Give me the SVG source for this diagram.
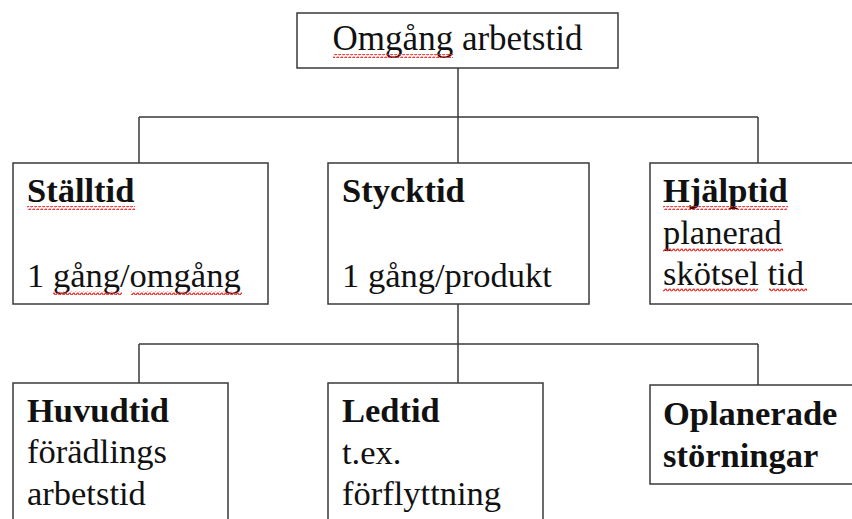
<svg xmlns="http://www.w3.org/2000/svg" width="852" height="519" viewBox="0 0 852 519">
<defs>
<pattern id="sq" width="4" height="4" patternUnits="userSpaceOnUse">
<path d="M0 3 L1 1.5 L2 1 L3 2.5 L4 3" fill="none" stroke="#f02828" stroke-width="1.2"/>
</pattern>
</defs>
<style>
.box{fill:#fff;stroke:#3a3a3a;stroke-width:1.5}
.ln{fill:none;stroke:#3a3a3a;stroke-width:1.5}
text{font-family:"Liberation Serif","Times New Roman",serif;font-size:34.5px;fill:#111}
.b{font-weight:bold}
.t{font-size:35px}
.sq{fill:url(#sq)}
</style>
<rect width="852" height="519" fill="#fff"/>
<g id="connectors">
<path class="ln" d="M458 68 V117 M139 117 H758 M139 117 V163 M458 117 V163 M758 117 V163"/>
<path class="ln" d="M458 304 V344 M139 344 H758 M139 344 V383 M458 344 V383 M758 344 V385"/>
</g>
<g id="n-omgang">
<rect class="box" x="297" y="13" width="321" height="55"/>
<text x="457.5" y="50" text-anchor="middle" class="t">Omgång arbetstid</text>
<rect class="sq" x="333" y="54" width="120" height="4"/>
</g>
<g id="n-stalltid">
<rect class="box" x="13" y="163" width="255" height="141"/>
<text x="27" y="202" class="b">Ställtid</text>
<text x="27" y="287">1 gång/omgång</text>
<rect class="sq" x="27" y="206" width="108" height="4"/>
<rect class="sq" x="53" y="291" width="69" height="4"/>
<rect class="sq" x="131" y="291" width="111" height="4"/>
</g>
<g id="n-stycktid">
<rect class="box" x="328" y="163" width="261" height="141"/>
<text x="342" y="202" class="b">Stycktid</text>
<text x="342" y="287">1 gång/produkt</text>
</g>
<g id="n-hjalptid">
<rect class="box" x="650" y="163" width="210" height="141"/>
<text x="663" y="202" class="b">Hjälptid</text>
<text x="663" y="244">planerad</text>
<text x="663" y="285">skötsel tid</text>
<rect class="sq" x="663" y="206" width="125" height="4"/>
<rect class="sq" x="663" y="248" width="120" height="4"/>
<rect class="sq" x="663" y="288" width="95" height="4"/>
<rect class="sq" x="769" y="288" width="38" height="4"/>
</g>
<g id="n-huvudtid">
<rect class="box" x="13" y="383" width="215" height="150"/>
<text x="27" y="422" class="b">Huvudtid</text>
<text x="27" y="463">förädlings</text>
<text x="27" y="505">arbetstid</text>
</g>
<g id="n-ledtid">
<rect class="box" x="328" y="383" width="215" height="150"/>
<text x="342" y="422" class="b">Ledtid</text>
<text x="342" y="464">t.ex.</text>
<text x="342" y="505">förflyttning</text>
</g>
<g id="n-oplanerade">
<rect class="box" x="650" y="385" width="210" height="99"/>
<text x="663" y="425" class="b">Oplanerade</text>
<text x="663" y="467" class="b">störningar</text>
</g>
</svg>
